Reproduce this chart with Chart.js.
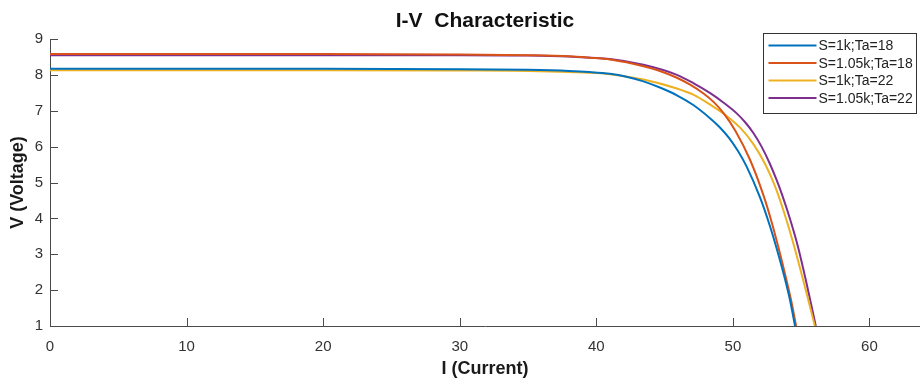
<html>
<head>
  <title>I-V Characteristic</title>
  <script src="https://cdn.jsdelivr.net/npm/chart.js"></script>
  <style>
    html, body { margin: 0; padding: 0; background: #fff; }
    #wrap { width: 920px; height: 382px; }
  </style>
</head>
<body>
  <div id="wrap"><canvas id="ivChart" width="920" height="382"></canvas></div>

  <script>
    // series labels
    const seriesLabels = ['S=1k;Ta=18', 'S=1.05k;Ta=18', 'S=1k;Ta=22', 'S=1.05k;Ta=22'];

    // I (current) / V (voltage)
    const current_1k_18 = [0, 10, 20, 30, 35, 38, 39.5, 41, 42.2, 43.45, 44.7, 45.9, 47.1, 48.3, 49.0, 49.7, 50.35, 51.0, 52.0, 52.7, 53.2, 53.8, 54.2, 54.55];
    const voltage_1k_18 = [8.17, 8.17, 8.17, 8.16, 8.14, 8.11, 8.08, 8.03, 7.95, 7.82, 7.64, 7.43, 7.16, 6.80, 6.555, 6.25, 5.89, 5.45, 4.57, 3.80, 3.17, 2.33, 1.69, 1.0];

    const current_105k_18 = [0, 10, 20, 30, 35, 38, 39.5, 41, 42.2, 43.45, 44.7, 45.9, 46.9, 47.85, 48.6, 49.3, 50.2, 51.27, 52.24, 52.85, 53.34, 53.9, 54.3, 54.63];
    const voltage_105k_18 = [8.58, 8.58, 8.58, 8.57, 8.55, 8.52, 8.48, 8.43, 8.35, 8.24, 8.10, 7.92, 7.72, 7.48, 7.24, 6.94, 6.43, 5.62, 4.64, 3.88, 3.18, 2.32, 1.65, 1.0];

    const current_1k_22 = [0, 10, 20, 30, 35, 38, 41, 43.45, 45.9, 47.1, 48.34, 49.5, 50.6, 51.5, 52.3, 52.75, 53.2, 53.95, 54.5, 55.0, 55.5, 56.0];
    const voltage_1k_22 = [8.13, 8.13, 8.13, 8.12, 8.11, 8.08, 8.02, 7.87, 7.62, 7.45, 7.17, 6.87, 6.50, 6.07, 5.56, 5.20, 4.78, 3.92, 3.20, 2.49, 1.76, 1.0];

    const current_105k_22 = [0, 10, 20, 30, 35, 38, 41, 43.45, 45.9, 47.1, 48.34, 49.3, 50.3, 50.9, 51.5, 52.1, 52.7, 53.2, 53.6, 54.2, 54.75, 55.4, 56.07];
    const voltage_105k_22 = [8.55, 8.55, 8.55, 8.55, 8.54, 8.51, 8.44, 8.28, 8.00, 7.77, 7.49, 7.23, 6.92, 6.68, 6.38, 6.00, 5.53, 5.07, 4.66, 3.96, 3.23, 2.18, 1.0];

    const seriesColors = ['#0072BD', '#D95319', '#EDB120', '#7E2F8E'];

    const xTicks = [0, 10, 20, 30, 40, 50, 60];
    const yTicks = [1, 2, 3, 4, 5, 6, 7, 8, 9];

    function toPoints(xs, ys) {
      return xs.map((x, i) => ({ x: x, y: ys[i] }));
    }

    const allSeries = [
      toPoints(current_1k_18, voltage_1k_18),
      toPoints(current_105k_18, voltage_105k_18),
      toPoints(current_1k_22, voltage_1k_22),
      toPoints(current_105k_22, voltage_105k_22)
    ];

    // MATLAB-like ticks pointing into the plot
    const innerTicks = {
      id: 'innerTicks',
      afterDraw(chart) {
        const ctx = chart.ctx;
        const { left, bottom } = chart.chartArea;
        const xs = chart.scales.x, ys = chart.scales.y;
        ctx.save();
        ctx.strokeStyle = '#4a4a4a';
        ctx.lineWidth = 1;
        ctx.beginPath();
        xTicks.forEach(v => {
          const px = Math.round(xs.getPixelForValue(v)) + 0.5;
          ctx.moveTo(px, bottom);
          ctx.lineTo(px, bottom - 8);
        });
        yTicks.forEach(v => {
          const py = Math.round(ys.getPixelForValue(v)) + 0.5;
          ctx.moveTo(left, py);
          ctx.lineTo(left + 8, py);
        });
        ctx.stroke();
        ctx.restore();
      }
    };

    // boxed legend in the top right corner
    const boxLegend = {
      id: 'boxLegend',
      afterDraw(chart) {
        const ctx = chart.ctx;
        const area = chart.chartArea;
        const boxW = 153, rowH = 17.5;
        const boxX = area.right - boxW - 3.5;
        const boxY = area.top - 5.5;
        const boxH = chart.data.datasets.length * rowH + 10;
        ctx.save();
        ctx.fillStyle = '#fff';
        ctx.fillRect(boxX, boxY, boxW, boxH);
        ctx.strokeStyle = '#333';
        ctx.lineWidth = 1;
        ctx.strokeRect(boxX, boxY, boxW, boxH);
        ctx.font = '14px "Liberation Sans", Arial, sans-serif';
        ctx.textBaseline = 'middle';
        ctx.fillStyle = '#222';
        chart.data.datasets.forEach((ds, i) => {
          const cy = boxY + 12 + i * rowH;
          ctx.strokeStyle = ds.borderColor;
          ctx.lineWidth = 2;
          ctx.beginPath();
          ctx.moveTo(boxX + 5, cy);
          ctx.lineTo(boxX + 53, cy);
          ctx.stroke();
          ctx.fillText(ds.label, boxX + 55, cy + 1);
        });
        ctx.restore();
      }
    };

    new Chart(document.getElementById('ivChart').getContext('2d'), {
      type: 'scatter',
      data: {
        datasets: allSeries.map((pts, i) => ({
          label: seriesLabels[i],
          data: pts,
          showLine: true,
          borderColor: seriesColors[i],
          backgroundColor: seriesColors[i],
          borderWidth: 2,
          pointRadius: 0,
          cubicInterpolationMode: 'monotone',
          fill: false
        }))
      },
      options: {
        responsive: false,
        animation: false,
        layout: { padding: 0 },
        plugins: {
          legend: { display: false },
          tooltip: { enabled: false },
          title: {
            display: true,
            text: 'I-V  Characteristic',
            fullSize: false,
            color: '#111',
            font: { family: '"Liberation Sans", Arial, sans-serif', size: 21, weight: 'bold' },
            padding: { top: 8.5, bottom: 5.3 }
          }
        },
        scales: {
          x: {
            type: 'linear',
            min: 0,
            max: 63.7,
            grid: { display: false, drawTicks: false },
            border: { display: true, color: '#4a4a4a', width: 1 },
            ticks: {
              stepSize: 10,
              includeBounds: false,
              padding: 12,
              color: '#333',
              font: { family: '"Liberation Sans", Arial, sans-serif', size: 15 }
            },
            title: {
              display: true,
              text: 'I (Current)',
              color: '#1a1a1a',
              font: { family: '"Liberation Sans", Arial, sans-serif', size: 18, weight: 'bold' },
              padding: { top: 0, bottom: 2 }
            },
            afterFit(scale) { scale.height = 56; }
          },
          y: {
            type: 'linear',
            min: 1,
            max: 9,
            grid: { display: false, drawTicks: false },
            border: { display: true, color: '#4a4a4a', width: 1 },
            ticks: {
              stepSize: 1,
              padding: 7,
              color: '#333',
              font: { family: '"Liberation Sans", Arial, sans-serif', size: 15 }
            },
            title: {
              display: true,
              text: 'V (Voltage)',
              color: '#1a1a1a',
              font: { family: '"Liberation Sans", Arial, sans-serif', size: 18, weight: 'bold' },
              padding: { top: 7.5, bottom: 0 }
            },
            afterFit(scale) { scale.width = 50; }
          }
        }
      },
      plugins: [innerTicks, boxLegend]
    });
  </script>
</body>
</html>
